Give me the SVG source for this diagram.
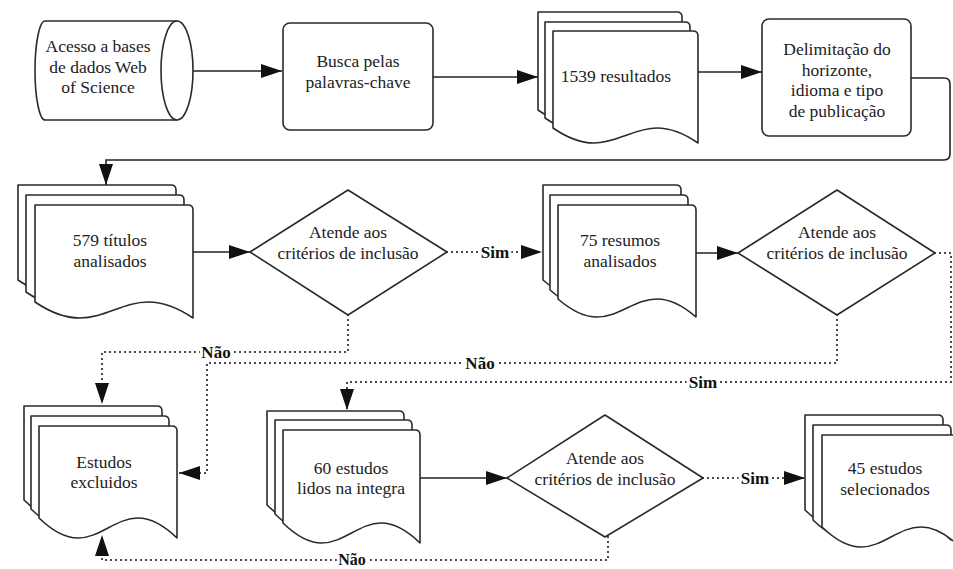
<svg xmlns="http://www.w3.org/2000/svg" width="953" height="569" viewBox="0 0 953 569">
<defs>
<style>
.shape{fill:#fff;stroke:#2a2a2a;stroke-width:1.6;stroke-linejoin:round}
.t{font-family:"Liberation Serif","Times New Roman",serif;font-size:17.5px;fill:#222;text-anchor:middle}
.lbl{font-family:"Liberation Serif","Times New Roman",serif;font-size:17px;font-weight:bold;fill:#111;text-anchor:middle;stroke:#fff;stroke-width:6;paint-order:stroke}
.solid{fill:none;stroke:#222;stroke-width:1.6}
.dot{fill:none;stroke:#222;stroke-width:2.2;stroke-linecap:round;stroke-dasharray:0 5}
</style>
<marker id="arr" markerUnits="userSpaceOnUse" markerWidth="22" markerHeight="16" refX="21" refY="7" orient="auto">
<path d="M0,0 L21,7 L0,14 Z" fill="#111"/>
</marker>
</defs>
<rect width="953" height="569" fill="#fff"/>

<g id="connectors">
<path class="solid" d="M193,71 H282" marker-end="url(#arr)"/>
<path class="solid" d="M433,77 H538" marker-end="url(#arr)"/>
<path class="solid" d="M698,72 H762" marker-end="url(#arr)"/>
<path class="solid" d="M911,78 H944 Q950,78 950,84 V154 Q950,160 944,160 H106 V185" marker-end="url(#arr)"/>
<path class="solid" d="M193,252 H250" marker-end="url(#arr)"/>
<path class="dot" d="M447,252 H542" marker-end="url(#arr)"/>
<path class="solid" d="M696,253 H738" marker-end="url(#arr)"/>
<path class="dot" d="M348,315 V352 H102 V404" marker-end="url(#arr)"/>
<path class="dot" d="M837,315 V363 H207 V473 H179" marker-end="url(#arr)"/>
<path class="dot" d="M935,253 H951 V382 H347 V410" marker-end="url(#arr)"/>
<path class="solid" d="M420,478 H507" marker-end="url(#arr)"/>
<path class="dot" d="M703,478 H805" marker-end="url(#arr)"/>
<path class="dot" d="M608,537 V560 H102 V535" marker-end="url(#arr)"/>
<text class="lbl" x="495" y="258">Sim</text>
<text class="lbl" x="216" y="358">Não</text>
<text class="lbl" x="480" y="369">Não</text>
<text class="lbl" x="703" y="388">Sim</text>
<text class="lbl" x="755" y="484">Sim</text>
<text class="lbl" x="352" y="565" style="font-size:16px">Não</text>
</g>

<g id="n-acesso">
<path class="shape" d="M45,21 H177 A16,49.5 0 0 1 177,120 H45 A10,49.5 0 0 1 45,21 Z"/>
<path class="shape" d="M177,21 A16,49.5 0 0 0 177,120"/>
<text class="t" x="98" y="52">Acesso a bases</text>
<text class="t" x="98" y="73">de dados Web</text>
<text class="t" x="98" y="93">of Science</text>
</g>

<g id="n-busca">
<rect class="shape" x="283" y="23" width="150" height="107" rx="7"/>
<text class="t" x="358" y="67">Busca pelas</text>
<text class="t" x="358" y="88">palavras-chave</text>
</g>

<g id="n-1539">
<path class="shape" d="M538,110 V12 H677 Q682,12 682,17 V125 C617.2,80 602.8,155 538,110 Z"/>
<path class="shape" d="M545,118 V22 H685 Q690,22 690,27 V133 C624.75,88 610.25,163 545,118 Z"/>
<path class="shape" d="M553,128 V31 H693 Q698,31 698,36 V143 C632.75,98 618.25,173 553,128 Z"/>
<text class="t" x="616" y="82">1539 resultados</text>
</g>

<g id="n-delim">
<rect class="shape" x="762" y="19" width="149" height="117" rx="7"/>
<text class="t" x="837" y="55">Delimitação do</text>
<text class="t" x="837" y="76">horizonte,</text>
<text class="t" x="837" y="96">idioma e tipo</text>
<text class="t" x="837" y="117">de publicação</text>
</g>

<g id="n-579">
<path class="shape" d="M18,280 V185 H171 Q176,185 176,190 V296 C104.9,248 89.1,328 18,280 Z"/>
<path class="shape" d="M26,292 V195 H179 Q184,195 184,200 V308 C112.9,260 97.1,340 26,292 Z"/>
<path class="shape" d="M35,302 V205 H188 Q193,205 193,210 V318 C121.9,270 106.1,350 35,302 Z"/>
<text class="t" x="110" y="246">579 títulos</text>
<text class="t" x="110" y="267">analisados</text>
</g>

<g id="n-d1">
<path class="shape" d="M250,252 L348,190 L447,252 L348,315 Z"/>
<text class="t" x="348" y="238">Atende aos</text>
<text class="t" x="348" y="259">critérios de inclusão</text>
</g>

<g id="n-75">
<path class="shape" d="M543,280 V185 H676 Q681,185 681,190 V298 C618.9,244 605.1,334 543,280 Z"/>
<path class="shape" d="M550,290 V195 H683 Q688,195 688,200 V308 C625.9,254 612.1,344 550,290 Z"/>
<path class="shape" d="M558,299 V205 H691 Q696,205 696,210 V317 C633.9,263 620.1,353 558,299 Z"/>
<text class="t" x="620" y="246">75 resumos</text>
<text class="t" x="620" y="267">analisados</text>
</g>

<g id="n-d2">
<path class="shape" d="M738,253 L837,190 L935,253 L837,315 Z"/>
<text class="t" x="837" y="238">Atende aos</text>
<text class="t" x="837" y="259">critérios de inclusão</text>
</g>

<g id="n-excluidos">
<path class="shape" d="M24,500 V406 H157 Q162,406 162,411 V520 C99.9,460 86.1,560 24,500 Z"/>
<path class="shape" d="M31,509 V416 H164 Q169,416 169,421 V529 C106.9,469 93.1,569 31,509 Z"/>
<path class="shape" d="M39,518 V426 H172 Q177,426 177,431 V538 C114.9,478 101.1,578 39,518 Z"/>
<text class="t" x="104" y="468">Estudos</text>
<text class="t" x="104" y="488">excluidos</text>
</g>

<g id="n-60">
<path class="shape" d="M267,505 V411 H399 Q404,411 404,416 V525 C342.35,465 328.65,565 267,505 Z"/>
<path class="shape" d="M275,514 V420 H407 Q412,420 412,425 V534 C350.35,474 336.65,574 275,514 Z"/>
<path class="shape" d="M283,523 V430 H415 Q420,430 420,435 V543 C358.35,483 344.65,583 283,523 Z"/>
<text class="t" x="351" y="474">60 estudos</text>
<text class="t" x="351" y="494">lidos na integra</text>
</g>

<g id="n-d3">
<path class="shape" d="M507,478 L605,415 L703,478 L605,537 Z"/>
<text class="t" x="605" y="464">Atende aos</text>
<text class="t" x="605" y="485">critérios de inclusão</text>
</g>

<g id="n-45">
<path class="shape" d="M805,510 V415 H938 Q943,415 943,420 V530 C880.9,470 867.1,570 805,510 Z"/>
<path class="shape" d="M813,520 V425 H946 Q951,425 951,430 V540 C888.9,480 875.1,580 813,520 Z"/>
<path class="shape" d="M822,527 V435 H955 Q960,435 960,440 V547 C897.9,487 884.1,587 822,527 Z"/>
<text class="t" x="885" y="474">45 estudos</text>
<text class="t" x="885" y="495">selecionados</text>
</g>
</svg>
